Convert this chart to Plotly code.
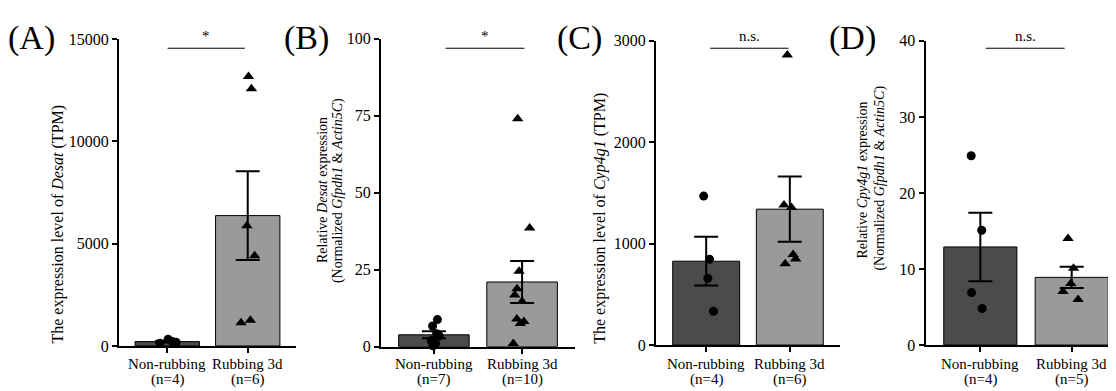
import plotly.graph_objects as go

W, H = 1116, 391
FONT = "Liberation Serif, Times New Roman, serif"

groups = ["Non-rubbing", "Rubbing 3d"]

# Panel A: Desat TPM
a_non = [130, 330, 220, 180]
a_rub = [13160, 12570, 5870, 4410, 1140, 1260]
a_mean = [215, 6370]
a_sem = [45, 2170]
a_n = [4, 6]

# Panel B: relative Desat qPCR
b_non = [8.8, 6.7, 4.2, 3.5, 2.0, 1.0, 0.3]
b_rub = [74.0, 38.5, 24.5, 18.8, 16.8, 14.7, 9.0, 8.2, 7.5, 1.0]
b_mean = [3.85, 21.0]
b_sem = [1.15, 6.85]
b_n = [7, 10]

# Panel C: Cyp4g1 TPM
c_non = [1469, 846, 658, 333]
c_rub = [2861, 1381, 1356, 893, 849, 802]
c_mean = [827, 1340]
c_sem = [240, 322]
c_n = [4, 6]

# Panel D: relative Cpy4g1 qPCR
d_non = [24.9, 15.1, 6.9, 4.8]
d_rub = [14.0, 10.1, 8.1, 7.05, 6.0]
d_mean = [12.9, 8.9]
d_sem = [4.5, 1.4]
d_n = [4, 5]

# horizontal jitter of the dots (fraction of category spacing)
a_jit = ([-0.09, 0.01, 0.06, 0.11], [0.01, 0.046, -0.01, 0.086, -0.083, 0.033])
b_jit = ([0.04, -0.015, 0.03, 0.06, -0.03, 0.02, -0.01], [-0.05, 0.086, -0.034, -0.057, -0.083, 0.0, -0.06, 0.02, -0.02, -0.1])
c_jit = ([-0.03, 0.04, 0.02, 0.087], [-0.03, -0.07, 0.02, 0.04, 0.07, -0.055])
d_jit = ([-0.1, 0.015, -0.095, 0.02], [-0.04, 0.02, -0.01, -0.095, 0.07])

y_max = [15000, 100, 3000, 40]
y_dtick = [5000, 25, 1000, 10]
sig = ["*", "*", "n.s.", "n.s."]
panel_labels = ["(A)", "(B)", "(C)", "(D)"]
y_titles = [
    ["The expression level of <i>Desat</i> (TPM)"],
    ["Relative <i>Desat</i> expression", "(Normalized <i>Gfpdh1</i> &amp; <i>Actin5C</i>)"],
    ["The expression level of <i>Cyp4g1</i> (TPM)"],
    ["Relative <i>Cpy4g1</i> expression", "(Normalized <i>Gfpdh1</i> &amp; <i>Actin5C</i>)"],
]

panels = [
    (a_non, a_rub, a_mean, a_sem, a_n, a_jit),
    (b_non, b_rub, b_mean, b_sem, b_n, b_jit),
    (c_non, c_rub, c_mean, c_sem, c_n, c_jit),
    (d_non, d_rub, d_mean, d_sem, d_n, d_jit),
]

# layout geometry (pixels)
x_dom_px = [(111, 288), (373, 567), (648, 832), (917.5, 1116)]
x_rng = [(-0.6, 1.6), (-0.6, 1.6), (-0.6, 1.6), (-0.6, 1.572)]
y_dom_px = [(345, 24), (345.7, 23.7), (344, 26), (344, 26)]
sig_x = [(0.004, 0.963), (0.132, 1.027), (0.047, 0.985), (0.059, 0.923)]
label_px = [(23, 23), (298, 23), (571, 23), (844, 23)]
# per title line: (x center, y center)
title_lines_px = [
    [(50, 218)],
    [(314, 182), (330, 183)],
    [(592, 212)],
    [(855, 172), (872, 170)],
]
title_size = [16, 14, 16, 14]
xlab_y_px = (364, 380)

bar_colors = ["#4b4b4b", "#9a9a9a"]

fig = go.Figure()
annotations = []
shapes = []
layout = {}

for i, (non, rub, mean, sem, n, jit) in enumerate(panels):
    k = "" if i == 0 else str(i + 1)
    xa, ya = "x" + k, "y" + k
    fig.add_trace(go.Bar(
        x=[0, 1], y=mean, width=0.8, xaxis=xa, yaxis=ya,
        marker=dict(color=bar_colors, line=dict(color="black", width=1)),
        error_y=dict(type="data", array=sem, visible=True, color="black", thickness=2, width=12),
        showlegend=False,
    ))
    fig.add_trace(go.Scatter(
        x=[0 + j for j in jit[0]], y=non, mode="markers", xaxis=xa, yaxis=ya,
        marker=dict(symbol="circle", size=9, color="black"), showlegend=False, cliponaxis=False,
    ))
    fig.add_trace(go.Scatter(
        x=[1 + j for j in jit[1]], y=rub, mode="markers", xaxis=xa, yaxis=ya,
        marker=dict(symbol="triangle-up", size=10, color="black"), showlegend=False, cliponaxis=False,
    ))
    x0, x1 = x_dom_px[i]
    yb, yt = y_dom_px[i]
    layout["xaxis" + k] = dict(
        domain=[x0 / W, min(x1 / W, 1.0)], range=list(x_rng[i]), anchor=ya,
        tickvals=[0, 1], showticklabels=False,
        showline=True, linecolor="black", linewidth=2, ticks="outside", ticklen=5,
        tickwidth=1.5, tickcolor="black", showgrid=False, zeroline=False,
    )
    layout["yaxis" + k] = dict(
        domain=[1 - yb / H, 1 - yt / H], range=[0, y_max[i]], anchor=xa,
        tick0=0, dtick=y_dtick[i], tickformat="d", showline=True, linecolor="black", linewidth=2,
        ticks="outside", ticklen=5, tickwidth=1.5, tickcolor="black",
        showgrid=False, zeroline=False,
        tickfont=dict(family=FONT, size=16, color="black"),
    )
    # category labels (two lines each)
    for c, (g, m) in enumerate(zip(groups, n)):
        for txt, py in ((g, xlab_y_px[0]), (f"(n={m})", xlab_y_px[1])):
            annotations.append(dict(text=txt, xref=xa, yref="paper", x=c, y=1 - py / H,
                                    xanchor="center", yanchor="middle", showarrow=False,
                                    font=dict(family=FONT, size=15, color="black")))
    sx0, sx1 = sig_x[i]
    shapes.append(dict(type="line", xref=xa, yref="paper", x0=sx0, x1=sx1,
                       y0=1 - 33.7 / H, y1=1 - 33.7 / H, line=dict(color="black", width=1)))
    annotations.append(dict(text=sig[i], xref=xa, yref="paper", x=(sx0 + sx1) / 2,
                            y=1 - 31 / H, yanchor="bottom", showarrow=False,
                            font=dict(family=FONT, size=15, color="black")))
    lx, ly = label_px[i]
    annotations.append(dict(text=panel_labels[i], xref="paper", yref="paper", x=lx / W, y=1 - ly / H,
                            xanchor="center", yanchor="middle", showarrow=False,
                            font=dict(family=FONT, size=34, color="black")))
    for line_txt, (tx, ty) in zip(y_titles[i], title_lines_px[i]):
        annotations.append(dict(text=line_txt, xref="paper", yref="paper", x=tx / W, y=1 - ty / H,
                                xanchor="center", yanchor="middle", textangle=-90, showarrow=False,
                                font=dict(family=FONT, size=title_size[i], color="black")))

fig.update_layout(
    width=W, height=H, margin=dict(l=0, r=0, t=0, b=0),
    paper_bgcolor="white", plot_bgcolor="white",
    font=dict(family=FONT, color="black"),
    annotations=annotations, shapes=shapes, bargap=0.2,
    **layout,
)

fig.write_html("out.html")
